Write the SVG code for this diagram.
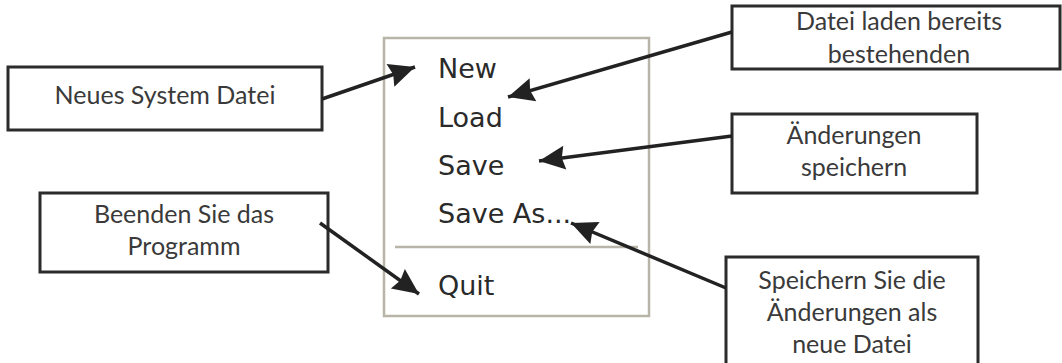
<svg xmlns="http://www.w3.org/2000/svg" width="1062" height="363" viewBox="0 0 1062 363">
<style>
.box{fill:#fff;stroke:#2b2b2b;stroke-width:3}
.lbl{font-family:Lato,"Open Sans","Liberation Sans",sans-serif;font-size:25px;fill:#3a3a3a;text-anchor:middle}
.menu{font-family:"DejaVu Sans","Liberation Sans",sans-serif;font-size:27px;fill:#2a2a2a}
.conn{stroke:#222;stroke-width:3.5;fill:none;marker-end:url(#ah)}
</style>
<defs>
<marker id="ah" markerUnits="userSpaceOnUse" markerWidth="30" markerHeight="26" refX="26" refY="13" orient="auto" overflow="visible">
<path d="M0,1 L26,13 L0,25 L3,13 z" fill="#222"/>
</marker>
</defs>
<rect width="1062" height="363" fill="#fff"/>
<g id="menu">
<rect x="384" y="38" width="265" height="278" fill="#fff" stroke="#b8b5a8" stroke-width="2.5"/>
<line x1="395" y1="247" x2="638" y2="247" stroke="#b8b5a8" stroke-width="2.5"/>
<text class="menu" x="438" y="78">New</text>
<text class="menu" x="438" y="127">Load</text>
<text class="menu" x="438" y="175">Save</text>
<text class="menu" x="438" y="223">Save As...</text>
<text class="menu" x="438" y="295">Quit</text>
</g>
<g id="n-new">
<rect class="box" x="8" y="67" width="314" height="63"/>
<text class="lbl" x="165" y="104">Neues System Datei</text>
</g>
<g id="n-load">
<rect class="box" x="732" y="6" width="328" height="63"/>
<text class="lbl" x="899" y="30">Datei laden bereits</text>
<text class="lbl" x="899" y="63">bestehenden</text>
</g>
<g id="n-save">
<rect class="box" x="732" y="114" width="245" height="79"/>
<text class="lbl" x="854" y="144">Änderungen</text>
<text class="lbl" x="854" y="176">speichern</text>
</g>
<g id="n-quit">
<rect class="box" x="40" y="193" width="288" height="79"/>
<text class="lbl" x="184" y="223">Beenden Sie das</text>
<text class="lbl" x="184" y="255">Programm</text>
</g>
<g id="n-saveas">
<rect class="box" x="726" y="257" width="252" height="120"/>
<text class="lbl" x="852" y="289">Speichern Sie die</text>
<text class="lbl" x="852" y="321">Änderungen als</text>
<text class="lbl" x="852" y="353">neue Datei</text>
</g>
<g id="connectors">
<line class="conn" x1="322" y1="99" x2="415" y2="67"/>
<line class="conn" x1="732" y1="32" x2="508" y2="97"/>
<line class="conn" x1="732" y1="136" x2="539" y2="161"/>
<line class="conn" x1="726" y1="288" x2="571" y2="223"/>
<line class="conn" x1="320" y1="223" x2="419" y2="294"/>
</g>
</svg>
